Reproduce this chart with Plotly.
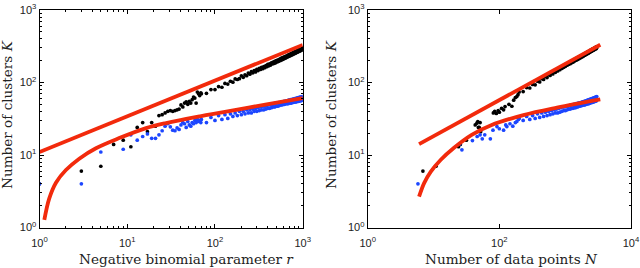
import plotly.graph_objects as go

# ---------------- data ----------------
# Left panel: K versus negative binomial parameter r
r_sparse = [1, 3, 5, 7, 9, 11, 13, 15, 17, 19, 21, 23, 25, 27, 29, 31, 33, 35,
            37, 39, 41, 43, 45, 47, 49, 51, 53, 55, 57, 59, 61, 63, 65, 67, 69]
k_black_left_sparse = [4, 6, 7, 14, 16, 13, 24, 28, 21, 28, 25, 35, 36, 38, 40, 41, 40, 41,
                       42, 43, 49, 46, 52, 54, 50, 55, 52, 58, 63, 61, 52, 74, 70, 66, 72]
k_blue_left_sparse = [4, 4, 11, None, 12, 19, 16, 18, 19.5, 17, 17, 19, 21.6, 25, 27, 24.5, 22, 21.6,
                      23.6, 22.5, 26, 28, 27, 24, 29, 26, 25, 28, 27, 30, 28, 31, 29, 30, 28]

r_dense = [70, 80, 90, 100, 110, 120, 130, 140, 150, 160, 170, 180, 190, 200, 210, 220,
           230, 240, 250, 260, 270, 280, 290, 300, 310, 320, 330, 340, 350, 360, 370, 380,
           390, 400, 410, 420, 430, 440, 450, 460, 470, 480, 490, 500, 510, 520, 530, 540,
           550, 560, 570, 580, 590, 600, 610, 620, 630, 640, 650, 660, 670, 680, 690, 700,
           710, 720, 730, 740, 750, 760, 770, 780, 790, 800, 810, 820, 830, 840, 850, 860,
           870, 880, 890, 900, 910, 920, 930, 940, 950, 960, 970, 980, 990, 1000]
k_black_left_dense = [70, 71, 80, 80, 88, 86, 97, 95, 104, 101, 112, 110, 113, 124, 118, 128,
                      124, 135, 130, 141, 136, 146, 140, 152, 146, 157, 151, 162, 155, 166, 160, 171,
                      165, 178, 170, 181, 174, 186, 180, 191, 183, 195, 187, 200, 192, 204, 196, 209,
                      200, 213, 204, 218, 208, 222, 212, 226, 216, 230, 221, 234, 225, 238, 229, 243,
                      232, 246, 236, 251, 240, 255, 244, 258, 248, 262, 251, 266, 255, 270, 259, 274,
                      262, 278, 266, 282, 270, 286, 273, 290, 277, 294, 280, 298, 283, 300]
k_blue_left_dense = [31, 28, 33, 30, 35, 31, 36, 32, 37, 34, 38, 35, 40, 36, 40, 37,
                     42, 38, 42, 38, 43, 40, 44, 40, 45, 41, 46, 42, 47, 42, 47, 43,
                     48, 44, 49, 44, 50, 45, 50, 46, 51, 46, 52, 47, 52, 47, 53, 48,
                     53, 49, 54, 49, 54, 50, 55, 50, 55, 51, 56, 51, 56, 51, 57, 52,
                     57, 52, 58, 52, 58, 53, 59, 53, 59, 54, 60, 54, 60, 54, 61, 55,
                     61, 55, 62, 55, 62, 56, 63, 56, 63, 56, 63, 57, 64, 57]

# red fitted curves, left
r_fit_line = [1, 1000]
k_fit_line_left = [11, 330]
r_fit_curve = [1.135, 1.29, 1.54, 2.0, 2.84, 4.4, 8.1, 16.4, 27.7, 67.6, 125, 389, 1000]
k_fit_curve_left = [1.27, 2.5, 4.15, 6.2, 8.9, 12.4, 17.1, 23.5, 27.6, 34.2, 39, 50, 61]

# Right panel: K versus number of data points N
n_black_sparse = [6.9, 10.9, 24, 25.5, 31.6, 43, 45.5, 47, 48, 49.5, 51, 52, 81, 85, 90,
                  96, 100, 108, 116, 122, 140, 155, 165, 175, 184, 192]
k_black_right_sparse = [6, 7, 13, 14, 16, 26, 27.5, 29, 24, 24, 28, 21, 38, 40, 37.5,
                        41, 39, 44, 42, 46.5, 50, 47, 57, 62, 64, 68]
n_blue_sparse = [5.8, 25, 27, 39, 46, 51, 55, 60, 73, 80, 92, 100, 116, 125, 130, 145, 160, 175, 184, 195]
k_blue_right_sparse = [4, 14.2, 11.8, 15.8, 18, 19, 16.7, 19, 16.7, 22, 24.7, 23, 22, 26, 24.7, 27, 25, 28, 29, 31]

n_dense = [200, 230, 260, 290, 320, 350, 380, 410, 440, 470, 500, 530, 560, 590, 620, 650,
           680, 710, 740, 770, 800, 830, 860, 890, 920, 950, 980, 1010, 1040, 1070, 1100, 1130,
           1160, 1190, 1220, 1250, 1280, 1310, 1340, 1370, 1400, 1430, 1460, 1490, 1520, 1550, 1580, 1610,
           1640, 1670, 1700, 1730, 1760, 1790, 1820, 1850, 1880, 1910, 1940, 1970, 2000, 2030, 2060, 2090,
           2120, 2150, 2180, 2210, 2240, 2270, 2300, 2330, 2360, 2390, 2420, 2450, 2480, 2510, 2540, 2570,
           2600, 2630, 2660, 2690, 2720, 2750, 2780, 2810, 2840, 2870, 2900, 2930, 2960, 2990, 3020]
k_black_right_dense = [74, 75, 85, 84, 94, 93, 104, 102, 113, 110, 121, 117, 128, 125, 135, 131,
                       142, 138, 149, 144, 156, 150, 162, 156, 168, 162, 174, 167, 180, 173, 184, 178,
                       190, 182, 195, 187, 200, 191, 205, 196, 209, 201, 214, 205, 218, 208, 223, 213,
                       227, 217, 231, 221, 235, 225, 239, 229, 243, 233, 247, 237, 251, 241, 255, 245,
                       259, 249, 263, 252, 266, 256, 270, 260, 274, 263, 277, 267, 281, 270, 284, 274,
                       288, 277, 291, 280, 294, 284, 298, 287, 301, 290, 305, 293, 308, 297, 311]
k_blue_right_dense = [32, 30, 34, 31, 35, 32, 37, 33, 38, 34, 39, 35, 40, 36, 41, 37,
                      42, 38, 43, 38, 44, 39, 45, 40, 46, 41, 46, 41, 47, 42, 47, 43,
                      48, 43, 49, 44, 49, 44, 50, 45, 50, 45, 51, 46, 51, 46, 52, 47,
                      52, 47, 53, 48, 53, 48, 54, 49, 54, 49, 55, 49, 55, 50, 56, 50,
                      56, 51, 57, 51, 57, 51, 58, 52, 58, 52, 59, 53, 59, 53, 60, 53,
                      60, 54, 61, 54, 61, 55, 62, 55, 62, 55, 63, 56, 63, 56, 64]

n_fit_line = [6.03, 3414]
k_fit_line_right = [14.1, 332]
n_fit_curve = [6.03, 7.2, 9.1, 12.9, 20.5, 38, 75, 232, 750, 3414]
k_fit_curve_right = [2.66, 4.1, 5.9, 8.6, 12.6, 19, 25.8, 35.5, 45, 58.5]

x_tick_left = [1, 10, 100, 1000]
x_tick_left_text = ["10<sup>0</sup>", "10<sup>1</sup>", "10<sup>2</sup>", "10<sup>3</sup>"]
x_tick_right = [1, 100, 10000]
x_tick_right_text = ["10<sup>0</sup>", "10<sup>2</sup>", "10<sup>4</sup>"]
y_tick = [1, 10, 100, 1000]
y_tick_text = ["10<sup>0</sup>", "10<sup>1</sup>", "10<sup>2</sup>", "10<sup>3</sup>"]

# ---------------- styles ----------------
BLACK = "#000000"
BLUE = "#1c46ff"
RED = "#f22a0c"
MS = 3.7
LW = 3.8

fig = go.Figure()

def dots(x, y, color, xa, ya):
    fig.add_trace(go.Scatter(x=x, y=y, mode="markers", xaxis=xa, yaxis=ya,
                             marker=dict(size=MS, color=color, line=dict(width=0)),
                             showlegend=False, hoverinfo="skip"))

def redline(x, y, xa, ya, shape="linear"):
    fig.add_trace(go.Scatter(x=x, y=y, mode="lines", xaxis=xa, yaxis=ya,
                             line=dict(color=RED, width=LW, shape=shape, smoothing=1.0),
                             showlegend=False, hoverinfo="skip"))

# left panel
dots(r_sparse + r_dense, k_black_left_sparse + k_black_left_dense, BLACK, "x", "y")
dots(r_sparse + r_dense, k_blue_left_sparse + k_blue_left_dense, BLUE, "x", "y")
redline(r_fit_line, k_fit_line_left, "x", "y")
redline(r_fit_curve, k_fit_curve_left, "x", "y", "spline")

# right panel
dots(n_black_sparse + n_dense, k_black_right_sparse + k_black_right_dense, BLACK, "x2", "y2")
dots(n_blue_sparse + n_dense, k_blue_right_sparse + k_blue_right_dense, BLUE, "x2", "y2")
redline(n_fit_line, k_fit_line_right, "x2", "y2")
redline(n_fit_curve, k_fit_curve_right, "x2", "y2", "spline")

W, H = 640, 268

def fx(px):
    return px / W

def fy(py):
    return (H - py) / H

tickfont = dict(family="Liberation Sans, Arial, sans-serif", size=11, color="#222222")

def axis_style(**kw):
    d = dict(type="log", showline=True, linecolor="black", linewidth=1, mirror="ticks",
             ticks="inside", ticklen=4, tickcolor="black", tickwidth=1,
             showgrid=False, zeroline=False, tickfont=tickfont, tickmode="array",
             automargin=False)
    d.update(kw)
    return d

minor = dict(ticks="inside", ticklen=2, tickcolor="black", tickwidth=1, dtick="D1", showgrid=False)

fig.update_layout(
    width=W, height=H, autosize=False,
    margin=dict(l=0, r=0, t=0, b=0),
    paper_bgcolor="white", plot_bgcolor="white",
    xaxis=axis_style(domain=[fx(39.5), fx(302.7)], range=[0, 3], ticklabelstandoff=5,
                     tickvals=x_tick_left, ticktext=x_tick_left_text, minor=minor, anchor="y"),
    yaxis=axis_style(domain=[fy(227.5), fy(10)], range=[0, 3],
                     tickvals=y_tick, ticktext=y_tick_text, minor=minor, anchor="x"),
    xaxis2=axis_style(domain=[fx(367.7), fx(631)], range=[0, 4], ticklabelstandoff=5,
                      tickvals=x_tick_right, ticktext=x_tick_right_text, anchor="y2"),
    yaxis2=axis_style(domain=[fy(227.5), fy(10)], range=[0, 3],
                      tickvals=y_tick, ticktext=y_tick_text, minor=minor, anchor="x2"),
)

title_font = dict(family="DejaVu Serif, serif", size=13.6, color="#222222")
ann = [
    dict(text="Negative binomial parameter <i>r</i>", x=fx(186), y=fy(259)),
    dict(text="Number of data points <i>N</i>", x=fx(511.7), y=fy(259)),
    dict(text="Number of clusters <i>K</i>", x=fx(7), y=fy(115), textangle=-90),
    dict(text="Number of clusters <i>K</i>", x=fx(331), y=fy(115), textangle=-90),
]
for a in ann:
    fig.add_annotation(xref="paper", yref="paper", showarrow=False,
                       xanchor="center", yanchor="middle", font=title_font, **a)

# the page's default 8px body margin would shift the 640x268 figure; remove it
fig.write_html("out.html", config={"displayModeBar": False},
               post_script="document.body.style.margin='0px';")
